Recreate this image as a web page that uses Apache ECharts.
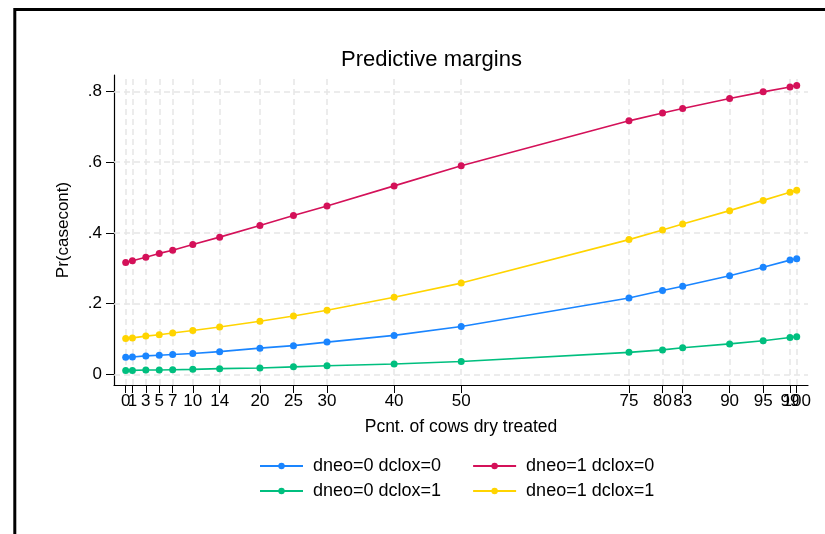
<!DOCTYPE html>
<html>
<head>
<meta charset="utf-8">
<script src="https://cdn.jsdelivr.net/npm/echarts@6/dist/echarts.min.js"></script>
<style>
  html, body { margin: 0; padding: 0; background: #fff; }
  #main { width: 825px; height: 534px; }
</style>
</head>
<body>
<div id="main"></div>
<script>
// x positions (pcnt of cows dry treated)
var xTicks = [0, 1, 3, 5, 7, 10, 14, 20, 25, 30, 40, 50, 75, 80, 83, 90, 95, 99, 100];
// labels that collide with a neighbour go on a second axis so none get dropped
var xLabelsA = [0, 3, 5, 7, 10, 14, 20, 25, 30, 40, 50, 75, 80, 83, 90, 95, 100];
var xLabelsB = [1, 99];
var yTicks = [0, 0.2, 0.4, 0.6, 0.8];

// predicted margins per group
var neo0clox0 = [0.048, 0.049, 0.052, 0.054, 0.056, 0.059, 0.064, 0.074, 0.081, 0.091, 0.110, 0.135, 0.216, 0.237, 0.249, 0.279, 0.303, 0.323, 0.327];
var neo1clox0 = [0.316, 0.321, 0.331, 0.342, 0.351, 0.367, 0.388, 0.421, 0.449, 0.476, 0.533, 0.590, 0.717, 0.739, 0.752, 0.780, 0.799, 0.813, 0.817];
var neo0clox1 = [0.011, 0.011, 0.012, 0.012, 0.013, 0.014, 0.016, 0.018, 0.021, 0.024, 0.029, 0.036, 0.062, 0.069, 0.075, 0.086, 0.095, 0.104, 0.106];
var neo1clox1 = [0.101, 0.103, 0.108, 0.112, 0.117, 0.124, 0.134, 0.150, 0.165, 0.181, 0.218, 0.258, 0.381, 0.408, 0.425, 0.463, 0.492, 0.515, 0.521];

var font = '"Liberation Sans", Arial, Helvetica, sans-serif';
var gridColor = '#e6e6e6';
var xMin = -1.744, xMax = 101.68;

function pairs(ys) {
    var out = [];
    for (var i = 0; i < xTicks.length; i++) {
        out.push([xTicks[i], ys[i]]);
    }
    return out;
}

function lineSeries(name, color, ys) {
    return {
        name: name,
        type: 'line',
        data: pairs(ys),
        symbol: 'circle',
        symbolSize: 7,
        color: color,
        lineStyle: { width: 1.6, color: color },
        itemStyle: { color: color },
        z: 5
    };
}

var labelStyle = { hideOverlap: false, margin: 8, fontFamily: font, fontSize: 17, color: '#000' };

var myChart = echarts.init(document.getElementById('main'));

var option = {
    backgroundColor: '#fff',
    animation: false,
    textStyle: { fontFamily: font },
    title: {
        text: 'Predictive margins',
        left: 336,
        top: 44,
        textStyle: { fontFamily: font, fontSize: 22, fontWeight: 'normal', color: '#000' }
    },
    // outer frame
    graphic: [{
        type: 'rect',
        shape: { x: 14.8, y: 9.5, width: 900, height: 700 },
        style: { fill: 'none', stroke: '#000', lineWidth: 3 },
        silent: true
    }],
    legend: [{
        data: ['dneo=0 dclox=0', 'dneo=1 dclox=0'],
        left: 254,
        top: 452,
        itemWidth: 43,
        itemHeight: 8,
        itemGap: 31,
        textStyle: { fontFamily: font, fontSize: 18, color: '#000', padding: [0, 0, 0, 5] }
    }, {
        data: ['dneo=0 dclox=1', 'dneo=1 dclox=1'],
        left: 254,
        top: 477,
        itemWidth: 43,
        itemHeight: 8,
        itemGap: 31,
        textStyle: { fontFamily: font, fontSize: 18, color: '#000', padding: [0, 0, 0, 5] }
    }],
    grid: { left: 114, top: 75, right: 17, bottom: 149, containLabel: false },
    xAxis: [{
        type: 'value',
        min: xMin,
        max: xMax,
        position: 'bottom',
        name: 'Pcnt. of cows dry treated',
        nameLocation: 'middle',
        nameGap: 33,
        nameTextStyle: { fontFamily: font, fontSize: 17.5, color: '#000', verticalAlign: 'top' },
        axisLine: { show: true, onZero: false, lineStyle: { color: '#000', width: 1.2 } },
        axisTick: { show: true, length: 8, customValues: xTicks, lineStyle: { color: '#000' } },
        axisLabel: Object.assign({ customValues: xLabelsA }, labelStyle),
        splitLine: { show: false }
    }, {
        type: 'value',
        min: xMin,
        max: xMax,
        position: 'bottom',
        offset: 0,
        axisLine: { show: false, onZero: false },
        axisTick: { show: false },
        axisLabel: Object.assign({ customValues: xLabelsB }, labelStyle),
        splitLine: { show: false }
    }],
    yAxis: {
        type: 'value',
        min: -0.0303,
        max: 0.8467,
        name: 'Pr(casecont)',
        nameLocation: 'middle',
        nameRotate: 90,
        nameGap: 42,
        nameTextStyle: { fontFamily: font, fontSize: 17, color: '#000' },
        axisLine: { show: true, onZero: false, lineStyle: { color: '#000', width: 1.2 } },
        axisTick: { show: true, length: 8, customValues: yTicks, lineStyle: { color: '#000' } },
        axisLabel: {
            customValues: yTicks,
            margin: 12,
            fontFamily: font,
            fontSize: 17,
            color: '#000',
            formatter: function (v) {
                return v === 0 ? '0' : String(Math.round(v * 10) / 10).replace(/^0/, '');
            }
        },
        splitLine: { show: false }
    },
    series: [
        // grid lines at tick positions
        {
            name: 'grid',
            type: 'line',
            data: [],
            silent: true,
            z: 1,
            markLine: {
                silent: true,
                symbol: 'none',
                label: { show: false },
                lineStyle: { color: gridColor, type: [6, 4], width: 1.5 },
                data: xTicks.map(function (v) { return { xAxis: v }; })
                    .concat(yTicks.map(function (v) { return { yAxis: v }; }))
            }
        },
        lineSeries('dneo=0 dclox=0', '#1a85ff', neo0clox0),
        lineSeries('dneo=0 dclox=1', '#00bf7f', neo0clox1),
        lineSeries('dneo=1 dclox=0', '#d41159', neo1clox0),
        lineSeries('dneo=1 dclox=1', '#ffd400', neo1clox1)
    ]
};

myChart.setOption(option);
</script>
</body>
</html>
